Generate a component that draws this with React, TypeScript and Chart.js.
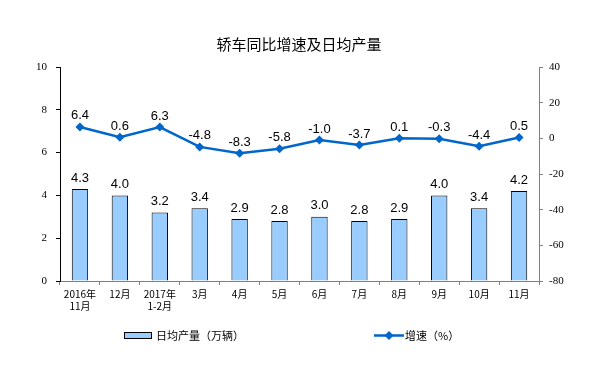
import React, { useEffect, useRef } from "react";
import { Chart, registerables } from "chart.js";

Chart.register(...registerables);

const categories: (string | string[])[] = [
  ["2016年", "11月"], "12月", ["2017年", "1-2月"], "3月", "4月", "5月",
  "6月", "7月", "8月", "9月", "10月", "11月",
];
const dailyOutput = [4.3, 4.0, 3.2, 3.4, 2.9, 2.8, 3.0, 2.8, 2.9, 4.0, 3.4, 4.2];
const growthRate = [6.4, 0.6, 6.3, -4.8, -8.3, -5.8, -1.0, -3.7, 0.1, -0.3, -4.4, 0.5];
const titleText = "轿车同比增速及日均产量";
const barLabel = "日均产量（万辆）";
const lineLabel = "增速（%）";

const CJK = '"Noto Sans CJK SC", "Liberation Sans", sans-serif';
const LAT = '"Liberation Sans", Arial, sans-serif';
const SERIF = '"Liberation Serif", "Times New Roman", serif';

const BAR_COLOR = "#99CCFF";
const LINE_COLOR = "#0066CC";

const labelsPlugin = {
  id: "valueLabels",
  afterDatasetsDraw(chart: any) {
    const ctx = chart.ctx;
    ctx.save();
    ctx.font = `13px ${LAT}`;
    ctx.fillStyle = "#000";
    ctx.textAlign = "center";
    ctx.textBaseline = "middle";
    chart.data.datasets.forEach((ds: any, di: number) => {
      const meta = chart.getDatasetMeta(di);
      meta.data.forEach((el: any, i: number) => {
        const v = ds.data[i] as number;
        ctx.fillText(v.toFixed(1), el.x, el.y - 11);
      });
    });
    ctx.restore();
  },
};

const titleLegendPlugin = {
  id: "titleLegend",
  afterDraw(chart: any) {
    const ctx = chart.ctx;
    ctx.save();
    // title
    ctx.font = `15px ${CJK}`;
    ctx.fillStyle = "#000";
    ctx.textAlign = "center";
    ctx.textBaseline = "middle";
    ctx.fillText(titleText, 299, 44);
    // legend: bar
    ctx.font = `11px ${CJK}`;
    ctx.textAlign = "left";
    ctx.fillStyle = BAR_COLOR;
    ctx.fillRect(124.5, 332.5, 27, 6);
    ctx.strokeStyle = "#000";
    ctx.lineWidth = 1;
    ctx.strokeRect(124.5, 332.5, 27, 6);
    ctx.fillStyle = "#000";
    ctx.fillText(barLabel, 156, 335.5);
    // legend: line
    ctx.strokeStyle = LINE_COLOR;
    ctx.lineWidth = 2.5;
    ctx.beginPath();
    ctx.moveTo(374, 335.5);
    ctx.lineTo(404, 335.5);
    ctx.stroke();
    ctx.fillStyle = LINE_COLOR;
    ctx.beginPath();
    ctx.moveTo(389, 331);
    ctx.lineTo(393.5, 335.5);
    ctx.lineTo(389, 340);
    ctx.lineTo(384.5, 335.5);
    ctx.closePath();
    ctx.fill();
    ctx.fillStyle = "#000";
    ctx.fillText(lineLabel, 405, 335.5);
    ctx.restore();
  },
};

export default function App() {
  const ref = useRef<HTMLCanvasElement>(null);
  useEffect(() => {
    if (!ref.current) return;
    const chart = new Chart(ref.current, {
      type: "bar",
      data: {
        labels: categories as any,
        datasets: [
          {
            type: "line",
            label: lineLabel,
            data: growthRate,
            yAxisID: "y1",
            borderColor: LINE_COLOR,
            backgroundColor: LINE_COLOR,
            borderWidth: 2.5,
            pointStyle: "rectRot",
            pointRadius: 4.5,
            pointBorderWidth: 0,
            pointBackgroundColor: LINE_COLOR,
            tension: 0,
            order: 1,
          } as any,
          {
            type: "bar",
            label: barLabel,
            data: dailyOutput,
            yAxisID: "y",
            backgroundColor: BAR_COLOR,
            borderColor: "#000",
            borderWidth: 1,
            borderSkipped: "bottom",
            barPercentage: 0.41,
            categoryPercentage: 1,
            order: 2,
          } as any,
        ],
      },
      options: {
        responsive: false,
        animation: false,
        devicePixelRatio: 1,
        layout: { padding: { top: 67, left: 0, right: 0, bottom: 0 } },
        plugins: {
          legend: { display: false },
          title: { display: false },
          tooltip: { enabled: false },
        },
        scales: {
          x: {
            offset: true,
            grid: {
              display: true,
              drawOnChartArea: false,
              drawTicks: true,
              tickLength: 4,
              color: "#808080",
              offset: true,
            },
            border: { color: "#808080", width: 1 },
            ticks: {
              color: "#000",
              font: { family: CJK, size: 10 },
              padding: 3,
              maxRotation: 0,
              autoSkip: false,
            },
            afterFit: (s: any) => {
              s.height = 94;
            },
          },
          y: {
            position: "left",
            min: 0,
            max: 10,
            ticks: {
              stepSize: 2,
              color: "#000",
              font: { family: SERIF, size: 11 },
              padding: 9,
            },
            grid: {
              drawOnChartArea: false,
              drawTicks: true,
              tickLength: 4,
              color: "#000",
            },
            border: { color: "#000", width: 1 },
            afterFit: (s: any) => {
              s.width = 60;
            },
          },
          y1: {
            position: "right",
            min: -80,
            max: 40,
            ticks: {
              stepSize: 20,
              color: "#000",
              font: { family: SERIF, size: 11 },
              padding: 6,
            },
            grid: {
              drawOnChartArea: false,
              drawTicks: true,
              tickLength: 4,
              color: "#808080",
            },
            border: { color: "#808080", width: 1 },
            afterFit: (s: any) => {
              s.width = 66;
            },
          },
        },
      },
      plugins: [labelsPlugin, titleLegendPlugin],
    });
    return () => chart.destroy();
  }, []);
  return (
    <div style={{ position: "absolute", left: 0, top: 0, width: 605, height: 375, background: "#fff" }}>
      <canvas ref={ref} width={605} height={375} style={{ width: 605, height: 375 }} />
    </div>
  );
}
